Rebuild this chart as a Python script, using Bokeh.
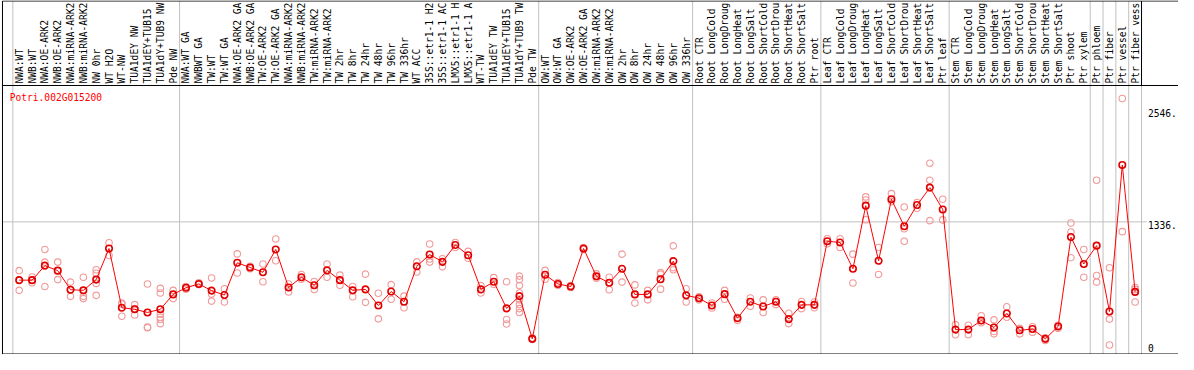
import math
from bokeh.plotting import figure
from bokeh.models import Range1d
from bokeh.core.properties import value
from bokeh.embed import file_html
from bokeh.resources import INLINE

# ---------------- data ----------------
title_text = "Potri.002G015200"

categories = [
    "NWA:WT", "NWB:WT", "NWA:OE-ARK2", "NWB:OE-ARK2", "NWA:miRNA-ARK2", "NWB:miRNA-ARK2",
    "NW 0hr", "WT H2O", "WT-NW", "TUA1dEY NW", "TUA1dEY+TUB15 NW", "TUA1dY+TUB9 NW", "Pde NW",
    "NWA:WT GA", "NWBWT GA", "TW:WT", "TW:WT GA", "NWA:OE-ARK2 GA", "NWB:OE-ARK2 GA",
    "TW:OE-ARK2", "TW:OE-ARK2 GA", "NWA:miRNA-ARK2 GA", "NWB:miRNA-ARK2 GA", "TW:miRNA-ARK2",
    "TW:miRNA-ARK2 GA", "TW 2hr", "TW 8hr", "TW 24hr", "TW 48hr", "TW 96hr", "TW 336hr",
    "WT ACC", "35S::etr1-1 H2O", "35S::etr1-1 ACC", "LMX5::etr1-1 H2O", "LMX5::etr1-1 ACC",
    "WT-TW", "TUA1dEY TW", "TUA1dEY+TUB15 TW", "TUA1dY+TUB9 TW", "Pde TW",
    "OW:WT", "OW:WT GA", "OW:OE-ARK2", "OW:OE-ARK2 GA", "OW:miRNA-ARK2", "OW:miRNA-ARK2 GA",
    "OW 2hr", "OW 8hr", "OW 24hr", "OW 48hr", "OW 96hr", "OW 336hr",
    "Root CTR", "Root LongCold", "Root LongDrought", "Root LongHeat", "Root LongSalt",
    "Root ShortCold", "Root ShortDrought", "Root ShortHeat", "Root ShortSalt", "Ptr root",
    "Leaf CTR", "Leaf LongCold", "Leaf LongDrought", "Leaf LongHeat", "Leaf LongSalt",
    "Leaf ShortCold", "Leaf ShortDrought", "Leaf ShortHeat", "Leaf ShortSalt", "Ptr leaf",
    "Stem CTR", "Stem LongCold", "Stem LongDrought", "Stem LongHeat", "Stem LongSalt",
    "Stem ShortCold", "Stem ShortDrought", "Stem ShortHeat", "Stem ShortSalt", "Ptr shoot", "Ptr xylem",
    "Ptr phloem", "Ptr fiber", "Ptr vessel", "Ptr fiber vessel",
]

group_sizes = [13, 28, 12, 10, 10, 11, 1, 1, 1, 1]

means = [
    706, 706, 863, 809, 603, 596, 712, 1048, 408, 391, 357, 391, 552,
    624, 665, 593, 545, 894, 843, 791, 1038, 627, 737, 651, 812, 706, 596, 606, 432, 583,
    473, 856, 983, 904, 1086, 976, 606, 689, 401, 534, 72,
    764, 665, 637, 1048, 747, 678, 829, 552, 552, 716, 912, 542,
    511, 432, 555, 295, 473, 421, 473, 285, 439, 439,
    1127, 1113, 829, 1511, 915, 1580, 1288, 1518, 1706, 1470,
    172, 172, 270, 195, 346, 164, 178, 72, 206, 1172, 881,
    1079, 367, 1950, 579,
]

replicates = [
    [809, 706, 596], [740, 706, 678], [1038, 901, 637], [901, 809, 712], [685, 603, 531],
    [737, 531, 507], [819, 781, 671, 542], [1110, 973], [449, 459, 316], [442, 400, 329],
    [665, 198, 192], [617, 568, 339, 305, 281, 236], [596, 507],
    [637, 609], [678, 658], [730, 555, 480], [613, 470], [990, 784], [856, 830],
    [881, 689], [1151, 915], [665, 579], [768, 716], [692, 606], [881, 737], [760, 650],
    [637, 527], [771, 466], [565, 288], [658, 500], [534, 408], [904, 794],
    [1097, 935, 901], [938, 850], [1113, 1059], [1017, 942], [647, 568], [733, 661],
    [689, 281, 233], [750, 712, 647, 568, 493, 442, 398, 357], [80, 65],
    [812, 716], [681, 650], [647, 627], [1059, 1038], [774, 727], [737, 603], [987, 685],
    [655, 459], [596, 493], [788, 771, 609], [1076, 841, 819], [613, 470],
    [527, 493], [459, 405], [596, 500], [305, 270], [514, 424], [493, 357], [493, 442],
    [349, 236], [476, 398], [470, 408],
    [1154, 1100], [1154, 1059], [987, 675], [1606, 1572, 1360], [1059, 768], [1641, 1555],
    [1497, 1261, 1127], [1545, 1483], [1970, 1785, 1349], [1580, 1357],
    [226, 116], [219, 116], [322, 247], [277, 151, 126], [418, 305], [185, 126], [202, 144],
    [82, 54], [219, 185], [1323, 1226, 949], [1038, 737],
    [1785, 757, 685], [840, 285, 5], [2669, 1230], [627, 606, 470],
]

y_ticks = [0, 1336, 2546]
y_tick_labels = ["0", "1336.", "2546."]
grid_values = [y_ticks[1]]

# the header shows at most 14 characters of each name
LABEL_CHARS = 14
shown_labels = [c[:LABEL_CHARS].rstrip() for c in categories]

# ---------------- layout constants ----------------
W, H = 1178, 354
X_START, X_END = -1.4615, 90.383
Y_START, Y_END = -97.3, 3728.1
X_LEFT = -1.3076          # left border
Y_TOP = 3722.7            # top border
Y_BOTTOM = -91.9          # bottom border
Y_HEADER = 2809.6         # header separator line
Y_LABEL = 2831.2          # start of rotated category labels
Y_TITLE = 2680.0
X_TITLE = -0.744
X_VALUE_LABEL = 88.0      # start of value labels at right
X_GRID_END = 87.92
FONT = value("DejaVu Sans Mono")
FSIZE = "9.6px"
GREY = "#c0c0c0"
REP_COLOR = "#f09a9a"

p = figure(width=W, height=H, output_backend="svg", toolbar_location=None,
           x_range=Range1d(X_START, X_END), y_range=Range1d(Y_START, Y_END),
           x_axis_type=None, y_axis_type=None, title=None,
           min_border=0, min_border_left=0, min_border_right=0,
           min_border_top=0, min_border_bottom=0)
p.outline_line_color = None
p.background_fill_color = "white"
p.border_fill_color = "white"

xs = list(range(len(categories)))

# group separators
seps = [-0.5]
acc = 0
for g in group_sizes:
    acc += g
    seps.append(acc - 0.5)
p.segment(x0=seps, y0=[Y_BOTTOM] * len(seps), x1=seps, y1=[Y_TOP] * len(seps),
          line_color=GREY, line_width=1)
p.segment(x0=[seps[-1]], y0=[Y_HEADER], x1=[seps[-1]], y1=[Y_TOP],
          line_color="black", line_width=1)

# horizontal grid line
p.segment(x0=[X_LEFT] * len(grid_values), y0=grid_values,
          x1=[X_GRID_END] * len(grid_values), y1=grid_values,
          line_color=GREY, line_width=1)

# replicate points
rx, ry = [], []
for i, reps in enumerate(replicates):
    for v in reps:
        rx.append(i)
        ry.append(v)
p.scatter(x=rx, y=ry, marker="circle", size=6.5, fill_color=None,
          line_color=REP_COLOR, line_width=1.1)

# mean line & points
p.line(x=xs, y=means, line_color="red", line_width=1)
p.scatter(x=xs, y=means, marker="circle", size=6.5, fill_color=None,
          line_color="#e00000", line_width=1.6)

# category labels (rotated)
p.text(x=xs, y=[Y_LABEL] * len(xs), text=shown_labels, angle=math.pi / 2,
       text_align="left", text_baseline="middle", text_font=FONT,
       text_font_size=FSIZE, text_color="black")

# title
p.text(x=[X_TITLE], y=[Y_TITLE], text=[title_text], text_align="left",
       text_baseline="middle", text_font=FONT, text_font_size=FSIZE, text_color="red")

# value labels at right
p.text(x=[X_VALUE_LABEL] * len(y_ticks), y=y_ticks, text=y_tick_labels,
       text_align="left", text_baseline="middle", y_offset=3,
       text_font=FONT, text_font_size=FSIZE, text_color="black")

# frame lines
p.segment(x0=[X_LEFT], y0=[Y_BOTTOM], x1=[X_LEFT], y1=[Y_TOP], line_color="black", line_width=1)
p.segment(x0=[X_LEFT] * 3, y0=[Y_TOP, Y_HEADER, Y_BOTTOM],
          x1=[X_END] * 3, y1=[Y_TOP, Y_HEADER, Y_BOTTOM], line_color="black", line_width=1)

open("out.html", "w").write(file_html(p, INLINE))
